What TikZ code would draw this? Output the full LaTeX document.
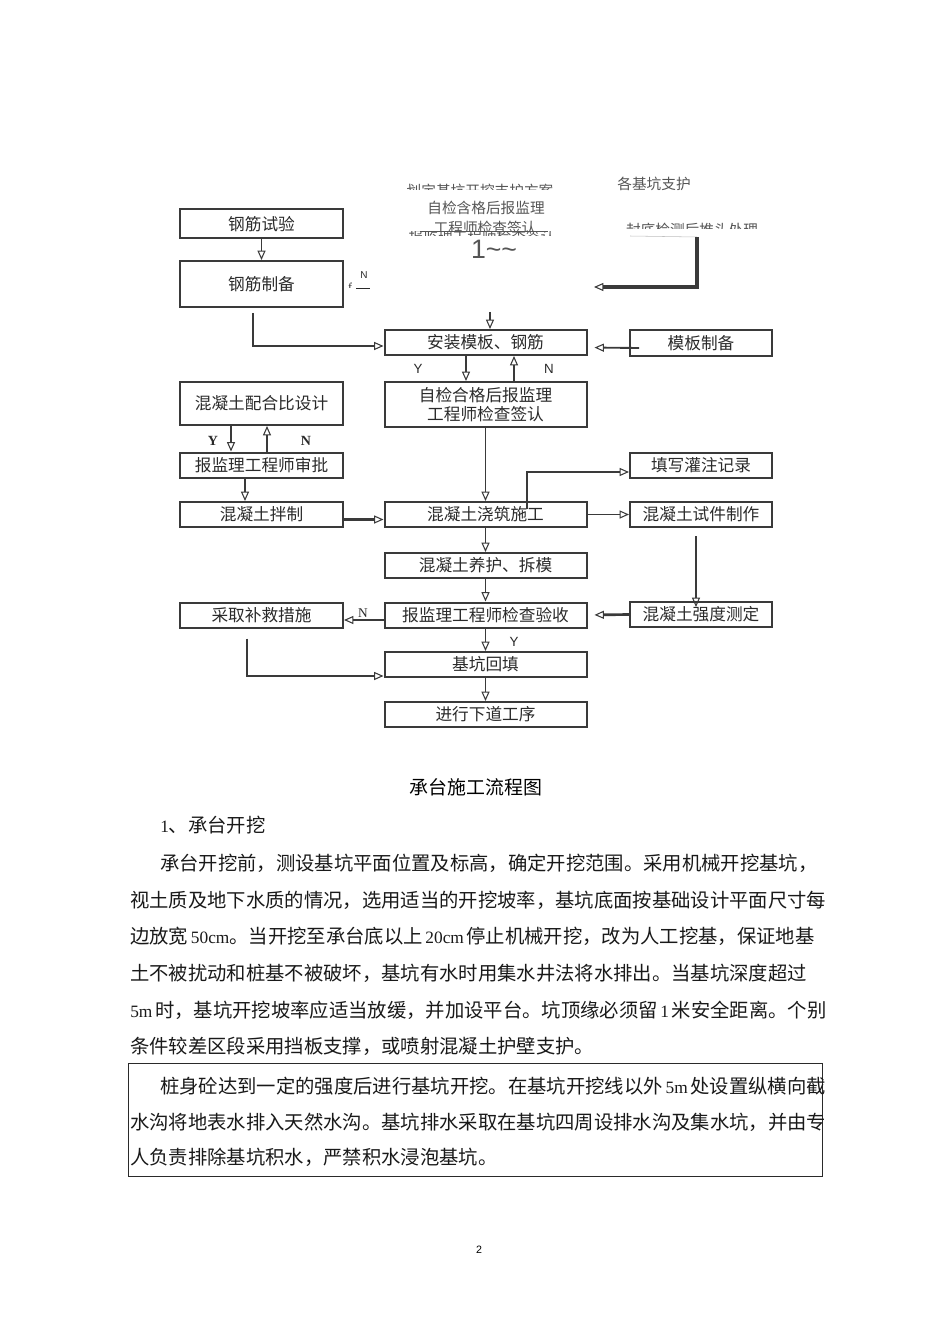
\documentclass[tikz,border=0pt]{standalone}
\usepackage{fontspec}
\setmainfont{Noto Sans CJK SC}
\newfontfamily\latn{Liberation Serif}
\newfontfamily\latsans{Liberation Sans}
\usetikzlibrary{arrows.meta, calc}
\XeTeXlinebreaklocale "zh"
\XeTeXlinebreakskip=0pt plus 1pt
\definecolor{boxline}{HTML}{3A3A3A}
\definecolor{ink}{HTML}{2A2A2A}
\definecolor{ghostgray}{HTML}{555555}
\newcommand{\fs}[1]{\fontsize{#1pt}{#1pt}\selectfont}
\newcommand{\ltn}[1]{{\latn\fontsize{13pt}{13pt}\selectfont #1}}
\newcommand{\jl}[2]{\makebox[#1][s]{#2}}
\tikzset{stepbox/.style={draw=boxline, line width=1.5pt, inner sep=0pt, font=\fs{12.5}, text=ink, align=center},
  lbox/.style={stepbox, minimum width=122.25pt, minimum height=18.75pt},
  mbox/.style={stepbox, minimum width=151.5pt, minimum height=18.75pt},
  rbox/.style={stepbox, minimum width=106.5pt, minimum height=18.75pt},
  flow/.style={draw=boxline, line width=1.4pt, -{Triangle[open, length=7pt, width=6pt, line width=0.8pt]}},
  yn/.style={font=\latsans\fs{10}, text=ink, inner sep=0pt},
  ynserif/.style={font=\latn\bfseries\fs{10.5}, text=ink, inner sep=0pt},
  ghost/.style={font=\fs{11}, text=ghostgray, inner sep=0pt},
  body/.style={font=\fs{14.5}, text=black!90, inner sep=0pt, anchor=west}}
\begin{document}
\begin{tikzpicture}[x=0.75pt, y=-0.75pt]
\useasboundingbox (0,0) rectangle (950,1344);

% half lost lines at the top
\begin{scope}
  \clip (380,170) rectangle (580,190);
  \node[ghost] (fa) at (480,191) {划定基坑开挖支护方案};
\end{scope}
\node[ghost] (gb) at (654,184) {各基坑支护};
\node[ghost] (zjtop) at (486,208) {自检含格后报监理};
\begin{scope}
  \clip (400,215) rectangle (560,230.5);
  \node[ghost] (gc) at (485,228) {工程师检查签认};
\end{scope}
\begin{scope}
  \clip (400,231.5) rectangle (560,235.5);
  \node[ghost] (gd) at (482,237) {报监理工程师检查签认};
\end{scope}
\draw[ghostgray, line width=0.6pt] (420,231) -- (548,231);
\node[ghost, font=\latsans\fs{20}] (tl) at (494,249) {1\textasciitilde\textasciitilde};
\begin{scope}
  \clip (600,215) rectangle (780,229);
  \node[ghost] (fd) at (692,230) {封底检测后推头处理};
\end{scope}
\node[yn, font=\latsans\fs{7.5}] (nsmall) at (364,275) {N};
\draw[ink, line width=0.6pt] (356,288) -- (370,288);
\begin{scope}
  \clip (340,276) rectangle (356,288);
  \node[yn, font=\latn\fs{9}] (fsmall) at (350,287) {f};
\end{scope}

% boxes
\node[lbox, minimum height=21.75pt] (gjsy) at (261.5,224) {钢筋试验};
\node[lbox, minimum height=34.5pt] (gjzb) at (261.5,284) {钢筋制备};
\node[mbox] (azmb) at (485.5,342.5) {安装模板、钢筋};
\node[rbox, minimum height=19.5pt] (mbzb) at (701,343) {模板制备};
\node[mbox, minimum height=33.75pt, font={\fontsize{12.5pt}{14.5pt}\selectfont}] (zjhg) at (485.5,404.5) {自检合格后报监理\\工程师检查签认};
\node[lbox, minimum height=32.25pt] (phb) at (261.5,403.5) {混凝土配合比设计};
\node[lbox] (spj) at (261.5,465) {报监理工程师审批};
\node[lbox] (bz) at (261.5,514.5) {混凝土拌制};
\node[mbox] (jz) at (485.5,514.5) {混凝土浇筑施工};
\node[rbox] (txjl) at (701,465) {填写灌注记录};
\node[rbox] (sjzz) at (701,514.5) {混凝土试件制作};
\node[mbox] (yh) at (485.5,565.5) {混凝土养护、拆模};
\node[rbox] (qd) at (701,614.5) {混凝土强度测定};
\node[mbox] (ys) at (485.5,615) {报监理工程师检查验收};
\node[lbox] (bj) at (261.5,615) {采取补救措施};
\node[mbox] (ht) at (485.5,664.5) {基坑回填};
\node[mbox] (xd) at (485.5,714.5) {进行下道工序};

% connectors
\coordinate (topin) at (490,312);
\coordinate (rtop) at (697,237);
\coordinate (rend) at (594,287);
\draw[gray!50, line width=0.4pt] (630,236) -- (rtop);
\draw[flow, line width=2.4pt] (rtop) |- (rend);
\draw[flow] (gjsy) -- (gjzb);
\draw[flow] ($(gjzb.south)+(-8.5,5)$) |- ($(azmb.west)+(0,3.5)$);
\draw[flow] (topin) -- (topin |- azmb.north);
\draw[flow, shorten >=5.25pt] ($(mbzb.west)+(10,5)$) -- ($(azmb.east)+(0,5)$);
\draw[flow] ($(azmb.south)+(-19.5,0)$) -- ($(zjhg.north)+(-19.5,0)$);
\draw[flow] ($(zjhg.north)+(28.5,0)$) -- ($(azmb.south)+(28.5,0)$);
\draw[flow] ($(phb.south)+(-30.5,0)$) -- ($(spj.north)+(-30.5,0)$);
\draw[flow] ($(spj.north)+(5.5,0)$) -- ($(phb.south)+(5.5,0)$);
\draw[flow] ($(spj.south)+(-16.5,0)$) -- ($(bz.north)+(-16.5,0)$);
\draw[flow, line width=2pt] ($(bz.east)+(0,5)$) -- ($(jz.west)+(0,5)$);
\draw[flow] (zjhg.south) -- (jz.north);
\draw[flow] ($(jz.north)+(41.5,8)$) |- ($(txjl.west)+(0,7)$);
\draw[flow] (jz.east) -- (sjzz.west);
\draw[flow] (jz) -- (yh);
\draw[flow] ($(sjzz.south)+(-5,8)$) -- ($(qd.north)+(-5,6)$);
\draw[flow, line width=2pt, shorten >=5.25pt] (qd.west) -- (ys.east);
\draw[flow] (yh) -- (ys);
\draw[flow] ($(ys.west)+(0,5)$) -- ($(bj.east)+(0,5)$);
\draw[flow] (ys) -- (ht);
\draw[flow] ($(bj.south)+(-14.5,10)$) |- ($(ht.west)+(0,11.5)$);
\draw[flow] (ht) -- (xd);

% Y / N
\node[yn] (y1) at (418,369) {Y};
\node[yn] (n1) at (549,369) {N};
\node[ynserif] (y2) at (213,441) {Y};
\node[ynserif] (n2) at (306,441) {N};
\node[ynserif, font=\latn\fs{10}] (n3) at (363,613) {N};
\node[yn] (y3) at (514,642) {Y};

% text of the page
\node[font=\fs{14.2}, inner sep=0pt] (cap) at (476,787) {承台施工流程图};
\node[body] (h1) at (160,825) {\ltn{1}、承台开挖};
\node[body] (p1) at (160,863) {\jl{495pt}{承台开挖前，测设基坑平面位置及标高，确定开挖范围。采用机械开挖基坑，}};
\node[body] (p2) at (130,900) {\jl{517.5pt}{视土质及地下水质的情况，选用适当的开挖坡率，基坑底面按基础设计平面尺寸每}};
\node[body] (p3) at (130,936) {\jl{517.5pt}{边放宽\kern2pt\ltn{50cm}。当开挖至承台底以上\kern2pt\ltn{20cm}\kern2pt停止机械开挖，改为人工挖基，保证地基}};
\node[body] (p4) at (130,973) {土不被扰动和桩基不被破坏，基坑有水时用集水井法将水排出。当基坑深度超过};
\node[body] (p5) at (130,1010) {\jl{517.5pt}{\ltn{5m}\kern2pt时，基坑开挖坡率应适当放缓，并加设平台。坑顶缘必须留\kern2pt\ltn{1}\kern2pt米安全距离。个别}};
\node[body] (p6) at (130,1046) {条件较差区段采用挡板支撑，或喷射混凝土护壁支护。};
\node[draw=ink, line width=1.1pt, minimum width=520.5pt, minimum height=84.75pt, inner sep=0pt, anchor=north west] (tb) at (128,1063) {};
\node[body] (q1) at (160,1086) {\jl{493.5pt}{桩身砼达到一定的强度后进行基坑开挖。在基坑开挖线以外\kern2pt\ltn{5m}\kern2pt处设置纵横向截}};
\node[body] (q2) at (130,1122) {\jl{517.5pt}{水沟将地表水排入天然水沟。基坑排水采取在基坑四周设排水沟及集水坑，并由专}};
\node[body] (q3) at (130,1157) {人负责排除基坑积水，严禁积水浸泡基坑。};
\node[font=\latsans\fs{8}, inner sep=0pt] (pg) at (479,1250) {2};
\end{tikzpicture}
\end{document}
